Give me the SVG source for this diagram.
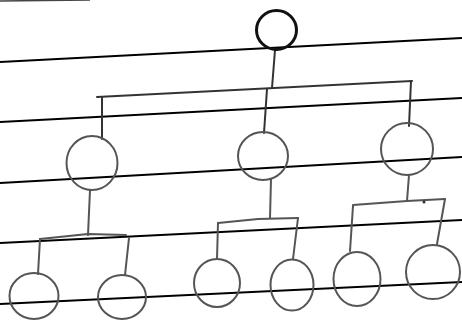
<svg xmlns="http://www.w3.org/2000/svg" width="462" height="320" viewBox="0 0 462 320">
<style>
.rule{stroke:#000;stroke-width:2;fill:none}
.node{fill:none;stroke:#111;stroke-width:3}
.node2{fill:none;stroke:#555;stroke-width:2}
.edge{fill:none;stroke:#333;stroke-width:2;stroke-linecap:round;stroke-linejoin:round}
.edge2{fill:none;stroke:#555;stroke-width:2;stroke-linecap:round;stroke-linejoin:round}
</style>
<rect width="462" height="320" fill="#fff"/>
<g id="paper">
<line x1="0" y1="1" x2="90" y2="0" stroke="#444" stroke-width="1.5"/>
<line class="rule" x1="0" y1="62" x2="462" y2="38"/>
<line class="rule" x1="0" y1="122" x2="462" y2="98"/>
<line class="rule" x1="0" y1="183" x2="462" y2="157"/>
<line class="rule" x1="0" y1="243" x2="462" y2="220"/>
<line class="rule" x1="0" y1="304" x2="462" y2="282"/>
</g>
<g id="connectors">
<path class="edge" d="M275,50 L272,88"/>
<path class="edge" d="M97,97 L412,81"/>
<path class="edge" d="M102,97 L102,139"/>
<path class="edge" d="M267,89 L264,133"/>
<path class="edge" d="M411,81 L409,126"/>
<path class="edge2" d="M90,190 L88,235"/>
<path class="edge2" d="M40,239 L88,234 L126,235"/>
<path class="edge2" d="M40,239 L38,274"/>
<path class="edge2" d="M129,238 L125,275"/>
<path class="edge2" d="M271,179 L270,218"/>
<path class="edge2" d="M218,223 L258,219 L298,218"/>
<path class="edge2" d="M218,223 L217,259"/>
<path class="edge2" d="M298,218 L293,259"/>
<path class="edge2" d="M409,175 L407,201"/>
<path class="edge2" d="M353,207 L353,205 L407,201 L445,199"/>
<path class="edge2" d="M353,206 L350,251"/>
<path class="edge2" d="M445,199 L437,244"/>
<circle cx="424" cy="202" r="1.5" fill="#333"/>
</g>
<g id="root"><ellipse class="node" cx="276.5" cy="30" rx="20" ry="19.5"/></g>
<g id="n1"><ellipse class="node2" cx="92" cy="163" rx="25.5" ry="27"/></g>
<g id="n2"><ellipse class="node2" cx="263" cy="156" rx="25" ry="24"/></g>
<g id="n3"><ellipse class="node2" cx="407" cy="149" rx="26" ry="26"/></g>
<g id="n11"><ellipse class="node2" cx="34" cy="296" rx="24.5" ry="23"/></g>
<g id="n12"><ellipse class="node2" cx="122" cy="297" rx="24" ry="22"/></g>
<g id="n21"><ellipse class="node2" cx="217" cy="283" rx="23" ry="24"/></g>
<g id="n22"><ellipse class="node2" cx="292" cy="285" rx="21.5" ry="25.5"/></g>
<g id="n31"><ellipse class="node2" cx="357" cy="279" rx="23.5" ry="27"/></g>
<g id="n32"><ellipse class="node2" cx="433" cy="272" rx="27" ry="27"/></g>
</svg>
